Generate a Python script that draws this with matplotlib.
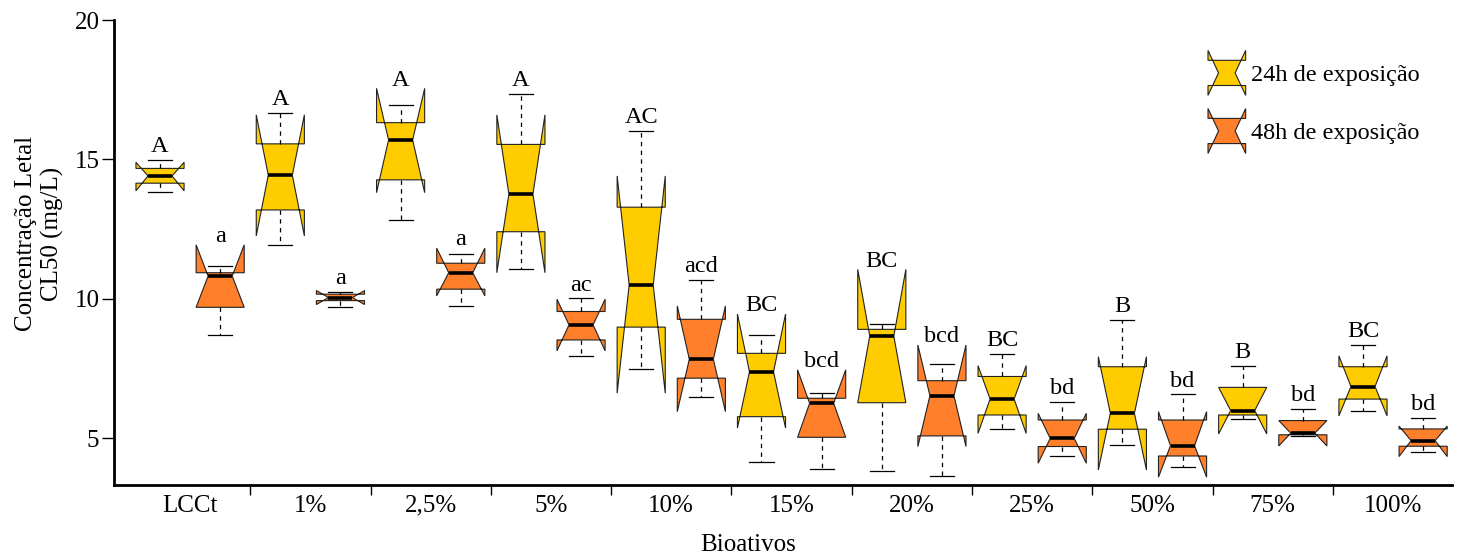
import matplotlib
matplotlib.use("Agg")
import matplotlib.pyplot as plt
from matplotlib.legend_handler import HandlerPatch
from matplotlib.patches import Patch, Polygon
from matplotlib.ticker import FixedLocator, NullFormatter

plt.rcParams['font.family'] = ['Liberation Serif', 'DejaVu Serif']

# groups on the x axis
groups = ['LCCt', '1%', '2,5%', '5%', '10%', '15%', '20%', '25%', '50%', '75%', '100%']

# 24h de exposição
h24_whislo = [13.85, 11.94, 12.83, 11.09, 7.48, 4.17, 3.84, 5.33, 4.77, 5.70, 5.99]
h24_q1     = [14.15, 13.19, 14.27, 12.41, 8.99, 5.78, 6.28, 5.84, 5.33, 5.84, 6.41]
h24_cilo   = [13.88, 12.26, 13.81, 10.94, 6.62, 5.37, 6.28, 5.18, 3.87, 5.16, 5.81]
h24_med    = [14.41, 14.44, 15.70, 13.76, 10.50, 7.39, 8.67, 6.41, 5.90, 6.00, 6.86]
h24_cihi   = [14.90, 16.60, 17.55, 16.60, 14.41, 9.46, 11.06, 7.61, 7.93, 6.83, 7.96]
h24_q3     = [14.68, 15.56, 16.32, 15.54, 13.29, 8.05, 8.91, 7.22, 7.57, 6.83, 7.57]
h24_whishi = [14.98, 16.68, 16.94, 17.35, 16.02, 8.71, 9.10, 8.02, 9.25, 7.60, 8.34]
h24_letters = ['A', 'A', 'A', 'A', 'AC', 'BC', 'BC', 'BC', 'B', 'B', 'BC']

# 48h de exposição
h48_whislo = [8.71, 9.72, 9.75, 7.97, 6.50, 3.89, 3.64, 4.37, 3.99, 5.09, 4.50]
h48_q1     = [9.70, 9.94, 10.35, 8.53, 7.16, 5.04, 5.09, 4.71, 4.37, 5.13, 4.72]
h48_cilo   = [9.70, 9.80, 10.11, 8.14, 5.96, 5.04, 4.71, 4.11, 3.61, 4.73, 4.35]
h48_med    = [10.82, 10.05, 10.94, 9.07, 7.84, 6.26, 6.53, 5.00, 4.74, 5.19, 4.92]
h48_cihi   = [11.94, 10.30, 11.82, 9.99, 9.75, 7.46, 8.35, 5.90, 5.96, 5.64, 5.44]
h48_q3     = [10.94, 10.17, 11.28, 9.55, 9.27, 6.44, 7.07, 5.66, 5.66, 5.64, 5.34]
h48_whishi = [11.19, 10.25, 11.61, 10.02, 10.68, 6.62, 7.66, 6.32, 6.58, 6.05, 5.74]
h48_letters = ['a', 'a', 'a', 'ac', 'acd', 'bcd', 'bcd', 'bd', 'bd', 'bd', 'bd']

yellow = '#FFCC00'
orange = '#FF7F2A'


def make_stats(whislo, q1, cilo, med, cihi, q3, whishi):
    keys = ['whislo', 'q1', 'cilo', 'med', 'cihi', 'q3', 'whishi']
    return [dict(zip(keys, v), fliers=[]) for v in zip(whislo, q1, cilo, med, cihi, q3, whishi)]


stats24 = make_stats(h24_whislo, h24_q1, h24_cilo, h24_med, h24_cihi, h24_q3, h24_whishi)
stats48 = make_stats(h48_whislo, h48_q1, h48_cilo, h48_med, h48_cihi, h48_q3, h48_whishi)

pos24 = [2 * i + 1 for i in range(len(groups))]
pos48 = [2 * i + 2 for i in range(len(groups))]

fig = plt.figure(figsize=(14.57, 5.56), dpi=100)
ax = fig.add_axes([114 / 1457, 71 / 556, 1338 / 1457, 465 / 556])

common = dict(widths=0.8, shownotches=True, patch_artist=True, showfliers=False,
              whiskerprops=dict(color='black', linewidth=0.9, linestyle=(0, (3.5, 3.5))),
              capprops=dict(color='black', linewidth=0.9),
              medianprops=dict(color='black', linewidth=2.6, solid_capstyle='butt'))

for stats, pos, col in [(stats24, pos24, yellow), (stats48, pos48, orange)]:
    ax.bxp(stats, positions=pos, boxprops=dict(facecolor=col, edgecolor='#222222', linewidth=0.8),
           **common)

# significance letters
for pos, lo, hi, letters in [(pos24, h24_whishi, h24_cihi, h24_letters),
                             (pos48, h48_whishi, h48_cihi, h48_letters)]:
    for x, w, c, t in zip(pos, lo, hi, letters):
        ax.text(x, max(w + 0.28, c + 0.1), t, ha='center', va='baseline', fontsize=17.5)

ax.set_xlim(0.235, 22.48)
ax.set_ylim(3.33, 20)
ax.set_yticks([5, 10, 15, 20])
ax.set_yticklabels(['5', '10', '15', '20'])

ax.set_xticks([2 * i + 1.5 for i in range(len(groups))])
ax.set_xticklabels(groups)
ax.xaxis.set_minor_locator(FixedLocator([2 * i + 2.5 for i in range(len(groups) - 1)]))
ax.xaxis.set_minor_formatter(NullFormatter())
ax.tick_params(axis='x', which='major', length=0, pad=7, labelsize=18)
ax.tick_params(axis='x', which='minor', length=7, width=1, direction='out')
ax.tick_params(axis='y', length=8.5, width=1, pad=2, labelsize=18)

for s in ['top', 'right']:
    ax.spines[s].set_visible(False)
for s in ['left', 'bottom']:
    ax.spines[s].set_linewidth(2)

ax.set_ylabel('Concentração Letal\nCL50 (mg/L)', fontsize=18, linespacing=1.25)
ax.yaxis.set_label_coords(-0.037, 0.54)
ax.set_xlabel('Bioativos', fontsize=18)
ax.xaxis.set_label_coords(0.474, -0.105)


def notch_icon(legend, orig_handle, xdescent, ydescent, width, height, fontsize):
    # notched box with horns, centred on the label text
    pts = [(0, 0.22), (1, 0.22), (1, 0), (0.72, 0.5), (1, 1), (1, 0.78),
           (0, 0.78), (0, 1), (0.28, 0.5), (0, 0), (0, 0.22)]
    h = 1.85 * fontsize
    yc = 0.32 * fontsize
    return Polygon([(-xdescent + x * width, yc + (y - 0.5) * h) for x, y in pts], closed=True)


handles = [Patch(facecolor=yellow, edgecolor='#222222', linewidth=0.8),
           Patch(facecolor=orange, edgecolor='#222222', linewidth=0.8)]
fig.legend(handles, ['24h de exposição', '48h de exposição'],
           handler_map={Patch: HandlerPatch(patch_func=notch_icon)},
           loc='upper left', bbox_to_anchor=(1208 / 1457, 1 - 52 / 556),
           frameon=False, fontsize=17.5, handlelength=1.55, handleheight=2.3,
           handletextpad=0.2, labelspacing=0.65, borderpad=0, borderaxespad=0)

fig.savefig('out.png', dpi=100)
